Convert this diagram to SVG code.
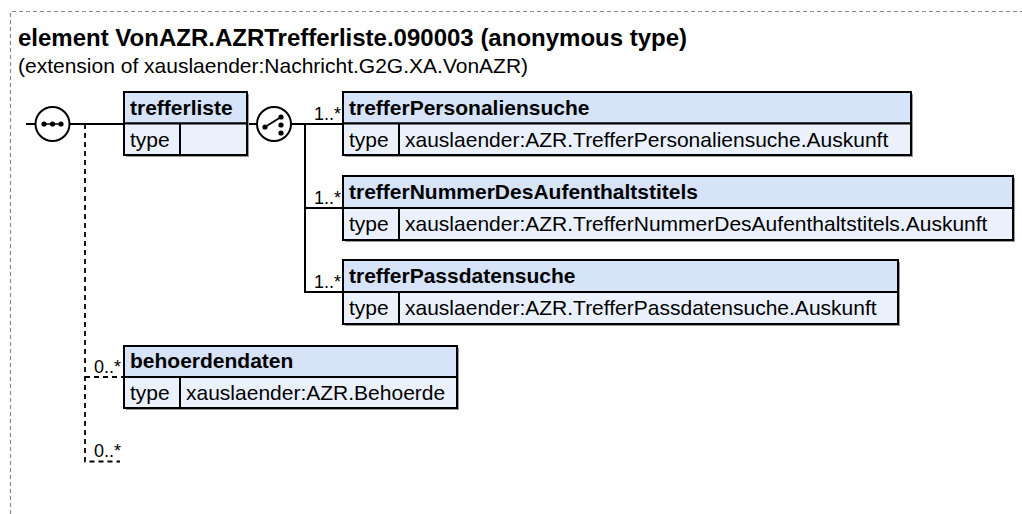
<svg xmlns="http://www.w3.org/2000/svg" width="1022" height="514" viewBox="0 0 1022 514">
<defs>
<style>
.t{font-family:"Liberation Sans",Arial,sans-serif;fill:#000}
.title{font-size:24px;font-weight:bold}
.sub{font-size:21px}
.hd{font-size:21px;font-weight:bold}
.bd{font-size:21px}
.card{font-size:18px}
.hdr{fill:#d6e3f8;stroke:#000;stroke-width:2}
.body{fill:#ebf1fc;stroke:#000;stroke-width:2}
.sh{fill:#9a9a9a}
.ln{stroke:#000;stroke-width:2;fill:none}
.dl{stroke:#000;stroke-width:1.8;fill:none;stroke-dasharray:5,4}
.ic{fill:#fff;stroke:#000;stroke-width:2}
</style>
</defs>
<rect width="1022" height="514" fill="#fff"/>
<path d="M10.5,514 V11.5 H1022" fill="none" stroke="#8a8a8a" stroke-width="1.2" stroke-dasharray="4,3"/>
<text class="t title" x="18" y="46">element VonAZR.AZRTrefferliste.090003 (anonymous type)</text>
<text class="t sub" x="18" y="73">(extension of xauslaender:Nachricht.G2G.XA.VonAZR)</text>

<g id="connectors">
<line class="ln" x1="26" y1="124" x2="124" y2="124"/>
<line class="ln" x1="247" y1="124" x2="343" y2="124"/>
<path class="ln" d="M305,124 V292 H343 M305,208 H343"/>
<path class="dl" d="M85,124 V461.5 H120 M85,377 H124"/>
<text class="t card" x="341" y="120" text-anchor="end">1..*</text>
<text class="t card" x="341" y="204" text-anchor="end">1..*</text>
<text class="t card" x="341" y="288" text-anchor="end">1..*</text>
<text class="t card" x="121" y="373" text-anchor="end">0..*</text>
<text class="t card" x="121" y="457" text-anchor="end">0..*</text>
</g>

<g id="sequence">
<circle class="ic" cx="52.5" cy="124" r="17"/>
<line x1="44" y1="124" x2="61" y2="124" stroke="#000" stroke-width="1.5"/>
<circle cx="44" cy="124" r="2.6"/>
<circle cx="52.5" cy="124" r="2.6"/>
<circle cx="61" cy="124" r="2.6"/>
</g>

<g id="choice">
<circle class="ic" cx="274" cy="124" r="17"/>
<line x1="265" y1="127" x2="281" y2="117" stroke="#000" stroke-width="1.8"/>
<circle cx="265" cy="127" r="2.6"/>
<circle cx="281" cy="117" r="2.6"/>
<circle cx="281" cy="125" r="2.6"/>
<circle cx="281" cy="133" r="2.6"/>
</g>

<g id="trefferliste">
<rect class="sh" x="126" y="94" width="123" height="63"/>
<rect class="hdr" x="124" y="92" width="123" height="31.5"/>
<rect class="body" x="124" y="123.5" width="123" height="31.5"/>
<line class="ln" x1="180" y1="123.5" x2="180" y2="155"/>
<text class="t hd" x="130" y="115">trefferliste</text>
<text class="t bd" x="130" y="147">type</text>
</g>

<g id="trefferPersonaliensuche">
<rect class="sh" x="345" y="94" width="568" height="63"/>
<rect class="hdr" x="343" y="92" width="568" height="31.5"/>
<rect class="body" x="343" y="123.5" width="568" height="31.5"/>
<line class="ln" x1="399" y1="123.5" x2="399" y2="155"/>
<text class="t hd" x="349" y="115">trefferPersonaliensuche</text>
<text class="t bd" x="349" y="147">type</text>
<text class="t bd" x="405" y="147">xauslaender:AZR.TrefferPersonaliensuche.Auskunft</text>
</g>

<g id="trefferNummerDesAufenthaltstitels">
<rect class="sh" x="345" y="178" width="670" height="64"/>
<rect class="hdr" x="343" y="176" width="670" height="32"/>
<rect class="body" x="343" y="208" width="670" height="32"/>
<line class="ln" x1="399" y1="208" x2="399" y2="240"/>
<text class="t hd" x="349" y="199">trefferNummerDesAufenthaltstitels</text>
<text class="t bd" x="349" y="231">type</text>
<text class="t bd" x="405" y="231">xauslaender:AZR.TrefferNummerDesAufenthaltstitels.Auskunft</text>
</g>

<g id="trefferPassdatensuche">
<rect class="sh" x="345" y="262" width="555" height="64"/>
<rect class="hdr" x="343" y="260" width="555" height="32"/>
<rect class="body" x="343" y="292" width="555" height="32"/>
<line class="ln" x1="399" y1="292" x2="399" y2="324"/>
<text class="t hd" x="349" y="283">trefferPassdatensuche</text>
<text class="t bd" x="349" y="315">type</text>
<text class="t bd" x="405" y="315">xauslaender:AZR.TrefferPassdatensuche.Auskunft</text>
</g>

<g id="behoerdendaten">
<rect class="sh" x="126" y="348" width="333" height="62"/>
<rect class="hdr" x="124" y="346" width="333" height="31"/>
<rect class="body" x="124" y="377" width="333" height="31"/>
<line class="ln" x1="180" y1="377" x2="180" y2="408"/>
<text class="t hd" x="130" y="368">behoerdendaten</text>
<text class="t bd" x="130" y="400">type</text>
<text class="t bd" x="186" y="400">xauslaender:AZR.Behoerde</text>
</g>
</svg>
